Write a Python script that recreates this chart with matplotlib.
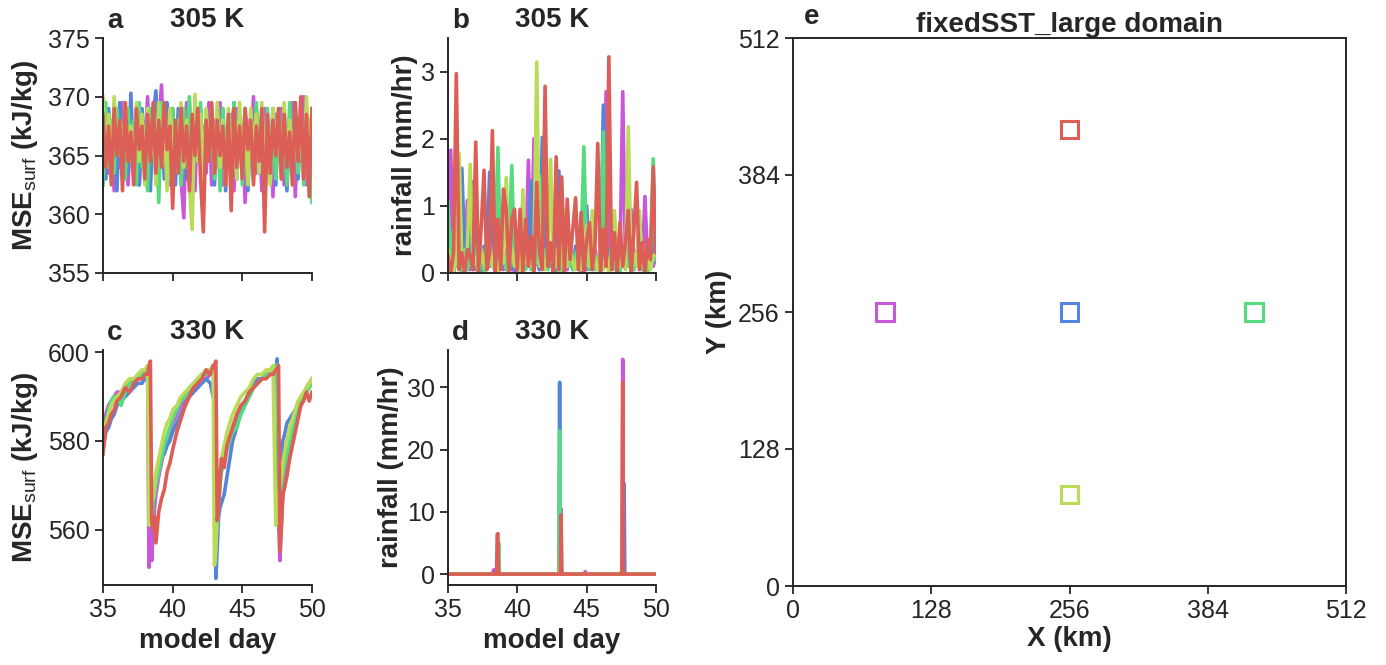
import numpy as np
import matplotlib
matplotlib.use("Agg")
import matplotlib.pyplot as plt
from matplotlib.patches import Rectangle

plt.rcParams["font.family"] = ["Liberation Sans", "DejaVu Sans"]
plt.rcParams["mathtext.fontset"] = "custom"
plt.rcParams["mathtext.rm"] = "Liberation Sans"
plt.rcParams["mathtext.it"] = "Liberation Sans:italic"
plt.rcParams["mathtext.bf"] = "Liberation Sans:bold"

INK = "#262626"

# sample columns, drawn in this order (red on top)
names = ["magenta", "blue", "green", "yellow", "red"]
colors = {"magenta": "#c957db", "blue": "#5784db", "green": "#57db80",
          "yellow": "#b9db57", "red": "#db5f57"}

# ---------------- 305 K (panels a, b): sampled every 0.2 day ----------------
days_ab = np.round(np.arange(35.0, 50.001, 0.2), 1)

mse305 = {
    "magenta": [366.0, 369.0, 363.5, 367.5, 362.0, 368.5, 364.0, 369.5, 365.0, 362.5,
                368.0, 364.5, 369.0, 362.5, 367.0, 365.0, 370.0, 363.0, 368.5, 364.0,
                367.5, 371.0, 364.0, 368.5, 362.5, 369.0, 364.5, 367.0, 363.0, 359.7,
                369.5, 364.0, 367.5, 362.0, 369.0, 365.0, 367.5, 363.5, 369.5, 362.5,
                368.0, 364.0, 369.5, 362.5, 367.0, 364.5, 368.5, 362.0, 369.0, 365.0,
                367.5, 361.0, 368.0, 364.5, 370.0, 363.5, 367.5, 362.0, 369.0, 364.0,
                367.0, 361.5, 368.5, 365.0, 369.0, 362.5, 367.5, 364.0, 369.5, 361.5,
                368.0, 364.5, 370.0, 362.5, 368.0, 365.0],
    "blue": [367.0, 363.0, 369.0, 364.5, 368.0, 362.0, 369.5, 365.0, 367.5, 363.5,
             370.3, 364.0, 368.0, 362.5, 369.0, 365.5, 367.0, 362.0, 368.5, 370.5,
             364.5, 368.0, 363.0, 369.5, 365.0, 367.5, 362.5, 369.0, 364.0, 368.0,
             363.0, 369.5, 361.5, 368.0, 364.5, 369.0, 363.0, 367.5, 365.0, 369.0,
             362.5, 368.5, 364.0, 369.0, 362.0, 367.5, 365.0, 369.5, 363.0, 368.0,
             364.5, 369.0, 362.0, 367.5, 365.0, 369.0, 363.5, 368.5, 360.5, 367.5,
             364.5, 369.0, 362.5, 368.0, 365.0, 369.0, 362.0, 368.5, 364.0, 369.5,
             363.0, 367.5, 365.0, 369.0, 362.5, 368.5],
    "green": [362.5, 369.5, 364.0, 368.0, 363.5, 369.0, 365.0, 367.5, 363.0, 369.0,
              364.5, 368.0, 362.5, 369.5, 364.0, 367.5, 362.0, 369.0, 365.0, 368.0,
              361.0, 369.5, 364.5, 367.5, 363.0, 369.0, 365.0, 368.0, 362.5, 369.0,
              364.5, 370.0, 363.5, 368.0, 365.0, 369.5, 362.5, 367.5, 364.5, 369.0,
              363.0, 368.5, 362.0, 369.0, 365.0, 367.5, 363.5, 369.5, 364.5, 368.0,
              362.5, 369.0, 364.0, 367.5, 363.0, 369.5, 365.0, 368.0, 362.5, 369.0,
              364.5, 367.5, 363.0, 369.0, 365.5, 368.0, 362.5, 369.5, 364.0, 368.0,
              363.5, 369.0, 362.5, 368.0, 365.0, 361.0],
    "yellow": [370.0, 364.0, 368.5, 363.0, 370.0, 365.5, 368.0, 363.5, 369.5, 365.0,
               367.5, 363.0, 369.5, 364.5, 368.5, 362.5, 369.0, 365.0, 367.0, 362.5,
               369.5, 364.0, 368.0, 362.0, 369.0, 365.5, 367.5, 363.5, 369.5, 364.0,
               368.0, 362.5, 358.7, 370.2, 364.5, 368.5, 363.0, 369.0, 365.0, 367.5,
               363.5, 369.5, 364.0, 368.0, 362.5, 369.0, 365.5, 367.5, 363.0, 369.5,
               364.5, 368.0, 362.5, 369.0, 365.0, 368.5, 363.5, 369.5, 364.0, 367.5,
               362.5, 369.0, 365.5, 368.0, 363.0, 369.5, 364.5, 368.0, 362.5, 369.0,
               365.0, 367.5, 363.0, 370.0, 364.5, 369.0],
    "red": [368.5, 364.0, 367.5, 362.5, 369.0, 365.0, 368.0, 362.0, 369.5, 364.5,
            367.0, 362.5, 369.0, 365.5, 367.5, 363.0, 368.5, 364.5, 369.5, 363.5,
            368.0, 364.0, 369.5, 365.5, 367.5, 360.5, 368.0, 363.5, 369.0, 364.5,
            367.5, 362.0, 368.5, 365.0, 369.0, 363.0, 358.5, 368.0, 364.5, 369.5,
            363.5, 368.0, 365.0, 367.5, 362.5, 368.5, 360.3, 369.0, 364.0, 367.5,
            363.0, 369.0, 365.5, 368.0, 362.5, 367.5, 364.5, 369.0, 358.5, 368.5,
            363.5, 368.0, 365.0, 369.0, 363.0, 368.5, 364.0, 367.0, 362.5, 369.5,
            364.5, 370.0, 363.0, 368.5, 361.5, 369.0],
}

rain305 = {
    "magenta": [0.25, 1.83, 0.0, 0.35, 0.1, 1.04, 0.15, 1.08, 0.05, 0.3,
                0.1, 0.45, 0.0, 0.2, 0.35, 0.1, 0.25, 0.0, 0.4, 0.15,
                0.05, 0.35, 0.05, 0.25, 0.0, 0.3, 0.1, 0.45, 0.15, 1.68,
                0.1, 2.0, 0.25, 0.05, 0.35, 0.15, 0.45, 0.1, 0.3, 0.0,
                0.35, 0.05, 0.25, 0.05, 0.4, 0.15, 0.1, 0.3, 0.0, 0.45,
                0.05, 0.25, 0.05, 0.35, 0.15, 0.1, 0.45, 2.7, 0.25, 0.05,
                0.35, 0.05, 0.15, 2.7, 0.1, 0.3, 0.95, 0.15, 0.1, 0.35,
                0.05, 1.14, 0.15, 0.45, 0.1, 0.25],
    "blue": [0.15, 0.35, 0.0, 0.25, 0.1, 1.56, 0.3, 0.05, 0.45, 1.36,
             0.05, 0.25, 0.0, 0.4, 0.15, 1.5, 0.1, 0.3, 0.0, 0.45,
             0.15, 0.05, 0.35, 0.05, 0.25, 0.0, 0.4, 0.15, 0.1, 0.35,
             1.37, 0.05, 0.25, 0.05, 2.02, 0.15, 0.35, 0.1, 0.3, 0.0,
             1.52, 0.15, 0.35, 0.1, 0.25, 0.05, 0.4, 0.15, 0.1, 0.3,
             1.0, 0.15, 0.35, 0.05, 0.25, 0.05, 2.5, 0.15, 0.35, 0.1,
             0.25, 0.0, 0.4, 0.15, 0.1, 0.35, 0.15, 0.05, 0.3, 0.45,
             0.1, 0.25, 0.05, 0.35, 0.15, 0.8],
    "green": [1.05, 0.15, 0.65, 0.1, 0.3, 0.0, 0.35, 0.05, 0.25, 0.05,
              0.4, 0.1, 0.3, 0.0, 0.45, 0.15, 0.1, 0.35, 1.87, 0.15,
              0.25, 0.05, 0.4, 1.6, 0.1, 0.3, 0.0, 0.35, 0.05, 0.25,
              0.05, 0.4, 0.15, 1.45, 0.1, 0.35, 0.05, 0.25, 0.45, 0.1,
              0.3, 0.0, 0.35, 1.0, 0.15, 0.05, 0.3, 0.1, 0.4, 1.88,
              0.15, 0.05, 0.35, 0.05, 0.25, 0.0, 2.1, 0.2, 0.1, 0.35,
              0.05, 0.3, 0.0, 0.4, 0.15, 0.1, 0.35, 0.05, 0.25, 0.45,
              0.05, 0.3, 0.0, 0.35, 1.7, 0.2],
    "yellow": [0.35, 0.1, 0.0, 0.3, 1.78, 0.15, 0.05, 0.4, 1.62, 0.1,
               0.25, 0.0, 0.35, 0.15, 0.05, 0.45, 0.1, 0.25, 0.0, 0.3,
               0.15, 1.42, 0.05, 0.35, 0.1, 0.25, 0.0, 1.24, 0.15, 0.35,
               0.1, 0.3, 3.14, 0.1, 0.35, 0.05, 0.25, 1.69, 0.05, 0.35,
               0.0, 0.3, 0.93, 0.1, 0.4, 0.15, 0.05, 0.35, 0.05, 0.3,
               0.7, 0.1, 0.93, 0.15, 0.05, 0.35, 0.05, 0.25, 0.0, 0.4,
               0.93, 0.15, 0.1, 0.35, 0.05, 2.18, 0.15, 0.3, 0.1, 0.93,
               0.15, 0.05, 0.35, 0.05, 0.25, 0.3],
    "red": [0.25, 0.0, 0.3, 2.97, 0.05, 0.3, 0.0, 0.35, 0.25, 0.05,
            1.95, 0.0, 0.7, 1.53, 0.05, 0.3, 2.12, 0.0, 0.8, 0.05,
            1.25, 0.95, 0.0, 0.8, 0.95, 0.05, 0.95, 0.0, 0.8, 0.1,
            0.55, 0.0, 1.35, 0.3, 0.05, 2.78, 0.1, 0.45, 0.0, 1.73,
            0.05, 1.43, 0.0, 1.1, 0.2, 0.65, 1.12, 0.05, 0.9, 0.0,
            0.5, 0.75, 0.05, 0.4, 1.93, 0.0, 0.65, 0.1, 3.22, 0.05,
            0.6, 0.0, 0.75, 0.1, 0.45, 0.93, 0.0, 0.6, 1.35, 0.05,
            0.45, 0.0, 0.5, 0.2, 1.58, 0.3],
}

# ---------------- 330 K (panel c): surface MSE ----------------
days_c = [35.0, 35.2, 35.4, 35.6, 35.8, 36.0, 36.3, 36.6, 36.9, 37.2,
          37.5, 37.8, 38.0, 38.2, 38.3, 38.4, 38.5, 38.6, 38.7, 38.8,
          39.0, 39.2, 39.4, 39.6, 39.8, 40.0, 40.3, 40.6, 40.9, 41.2,
          41.5, 41.8, 42.1, 42.4, 42.7, 42.9, 43.0, 43.1, 43.2, 43.3,
          43.4, 43.5, 43.7, 43.9, 44.1, 44.3, 44.6, 44.9, 45.2, 45.5,
          45.8, 46.1, 46.4, 46.7, 47.0, 47.2, 47.4, 47.5, 47.6, 47.7,
          47.8, 47.9, 48.0, 48.2, 48.4, 48.6, 48.8, 49.0, 49.2, 49.4,
          49.6, 49.8, 50.0]

mse330 = {
    "magenta": [580, 586, 588, 589, 590, 591, 591, 592, 593, 594,
                594, 595, 595, 596, 551.5, 562, 553, 560, 565, 568,
                572, 575, 578, 580, 582, 584, 586, 588, 589, 591,
                592, 593, 594, 594, 595, 596, 597, 560, 565, 570,
                573, 575, 577, 579, 581, 583, 585, 587, 589, 590,
                592, 593, 594, 595, 595, 596, 596, 597, 562, 553,
                561, 567, 571, 575, 579, 582, 584, 586, 588, 590,
                592, 593, 594],
    "blue": [578, 582, 583, 585, 586, 588, 589, 590, 591, 592,
             593, 593, 594, 594, 596, 562, 563, 566, 569, 572,
             575, 577, 577, 579, 580, 582, 584, 586, 588, 590,
             591, 592, 593, 594, 593, 590, 596, 549, 556, 563,
             565, 566, 568, 572, 576, 580, 583, 587, 589, 591,
             593, 594, 594, 595, 595, 596, 596, 598.5, 566, 570,
             576, 580, 581, 584, 585, 586, 587, 588, 589, 590,
             591, 593, 593],
    "green": [580, 584, 587, 589, 590, 590, 588, 591, 593, 594,
              594, 595, 596, 596, 597, 565, 561, 566, 568, 570,
              573, 576, 579, 581, 583, 585, 587, 589, 590, 592,
              593, 594, 595, 595, 596, 596, 597, 562, 560, 566,
              570, 573, 575, 578, 580, 582, 583, 586, 588, 590,
              592, 593, 594, 595, 595, 596, 597, 597, 563, 566,
              570, 572, 574, 577, 580, 583, 586, 588, 589, 590,
              591, 592, 593],
    "yellow": [579, 584, 586, 588, 589, 590, 591, 593, 594, 594,
               595, 596, 596, 597, 561, 566, 568, 567, 570, 573,
               576, 579, 582, 584, 585, 587, 588, 590, 591, 592,
               593, 594, 595, 596, 596, 597, 552, 555, 565, 569,
               573, 576, 579, 582, 584, 586, 588, 590, 591, 592,
               594, 595, 595, 596, 596, 597, 561, 565, 568, 570,
               572, 575, 577, 580, 583, 585, 587, 589, 590, 591,
               592, 593, 594],
    "red": [577, 583, 584, 586, 587, 589, 590, 592, 591, 593,
            594, 594, 595, 595, 597, 598, 562, 560, 563, 557,
            564, 567, 569, 573, 575, 578, 582, 585, 588, 590,
            592, 593, 594, 596, 595, 597, 597, 598, 562, 565,
            571, 576, 574, 579, 581, 583, 586, 588, 589, 591,
            592, 593, 594, 594, 595, 595, 596, 596, 597, 555,
            560, 568, 569, 572, 576, 579, 582, 585, 588, 589,
            591, 589, 591],
}

# ---------------- 330 K (panel d): rainfall ----------------
days_d = [35.0, 38.2, 38.3, 38.4, 38.5, 38.55, 38.6, 38.65, 38.7, 38.8,
          43.0, 43.05, 43.1, 43.15, 43.2, 43.25, 43.3, 44.8, 44.9, 45.0,
          47.4, 47.5, 47.55, 47.6, 47.65, 47.7, 47.75, 47.8, 50.0]

rain330 = {
    "magenta": [0, 0, 0.7, 0, 0, 0, 0, 0, 0, 0,
                0, 0, 0, 10.5, 0, 0, 0, 0, 0.4, 0,
                0, 0, 0, 34.5, 0, 0, 0, 0, 0],
    "blue": [0, 0, 0, 0, 0, 0, 0, 0, 0, 0,
             0, 30.8, 0, 0, 0, 0, 0, 0, 0, 0,
             0, 0, 0, 0, 0, 14.5, 0, 0, 0],
    "green": [0, 0, 0, 0, 0, 0, 0, 5.0, 0, 0,
              0, 23.0, 0, 0, 0, 0, 0, 0, 0, 0,
              0, 0, 0, 0, 0, 0, 0, 0, 0],
    "yellow": [0, 0, 0, 0, 0, 0, 0, 0, 0, 0,
               0, 0, 1.5, 0, 0, 0, 0, 0, 0, 0,
               0, 0.5, 0, 0, 0, 0, 0, 0, 0],
    "red": [0, 0, 0, 0, 0, 6.4, 6.5, 0, 0, 0,
            0, 0, 0, 9.5, 0, 0, 0, 0, 0, 0,
            0, 0, 0, 30.8, 0, 0, 0, 0, 0],
}

# ---------------- panel e: sample column centres (km) ----------------
col_x = {"magenta": 85.3, "blue": 256.0, "green": 426.7, "yellow": 256.0, "red": 256.0}
col_y = {"magenta": 256.0, "blue": 256.0, "green": 256.0, "yellow": 85.3, "red": 426.7}
BOX = 16.0
km_ticks = [0, 128, 256, 384, 512]

W, H = 1386, 665
fig = plt.figure(figsize=(W / 100, H / 100), dpi=100)


def add_ax(l, t, r, b):
    return fig.add_axes([l / W, 1 - b / H, (r - l) / W, (b - t) / H])


def style(ax, letter, title, open_frame=True, pad=8):
    for s in ax.spines.values():
        s.set_color(INK)
        s.set_linewidth(1.4)
    if open_frame:
        ax.spines["top"].set_visible(False)
        ax.spines["right"].set_visible(False)
    ax.tick_params(direction="out", length=6, width=1.3, colors=INK,
                   labelsize=18, labelcolor=INK)
    ax.text(0.02, 1.015, letter, transform=ax.transAxes, fontsize=20,
            fontweight="bold", color=INK, ha="left", va="bottom")
    ax.set_title(title, fontsize=20, fontweight="bold", color=INK, pad=pad)


LW = 2.6
mse_label = r"MSE$_{\mathrm{surf}}$ (kJ/kg)"

ax_a = add_ax(103, 38, 312, 273)
for n in names:
    ax_a.plot(days_ab, mse305[n], color=colors[n], lw=LW)
ax_a.set_xlim(35, 50)
ax_a.set_ylim(355, 375)
ax_a.set_yticks([355, 360, 365, 370, 375])
ax_a.set_xticks([35, 40, 45, 50])
ax_a.set_xticklabels([])
ax_a.set_ylabel(mse_label, fontsize=20, fontweight="bold", color=INK, labelpad=6)
style(ax_a, "a", "305 K")

ax_b = add_ax(448, 38, 656, 273)
for n in names:
    ax_b.plot(days_ab, rain305[n], color=colors[n], lw=LW)
ax_b.set_xlim(35, 50)
ax_b.set_ylim(0, 3.5)
ax_b.set_yticks([0, 1, 2, 3])
ax_b.set_xticks([35, 40, 45, 50])
ax_b.set_xticklabels([])
ax_b.set_ylabel("rainfall (mm/hr)", fontsize=20, fontweight="bold", color=INK, labelpad=2)
style(ax_b, "b", "305 K")

ax_c = add_ax(103, 350, 312, 585)
for n in names:
    ax_c.plot(days_c, mse330[n], color=colors[n], lw=LW)
ax_c.set_xlim(35, 50)
ax_c.set_ylim(547.5, 600.5)
ax_c.set_yticks([560, 580, 600])
ax_c.set_xticks([35, 40, 45, 50])
ax_c.set_xlabel("model day", fontsize=20, fontweight="bold", color=INK, labelpad=4)
ax_c.set_ylabel(mse_label, fontsize=20, fontweight="bold", color=INK, labelpad=6)
style(ax_c, "c", "330 K")

ax_d = add_ax(448, 350, 656, 585)
for n in names:
    ax_d.plot(days_d, rain330[n], color=colors[n], lw=LW)
ax_d.set_xlim(35, 50)
ax_d.set_ylim(-1.75, 36)
ax_d.set_yticks([0, 10, 20, 30])
ax_d.set_xticks([35, 40, 45, 50])
ax_d.set_xlabel("model day", fontsize=20, fontweight="bold", color=INK, labelpad=4)
ax_d.set_ylabel("rainfall (mm/hr)", fontsize=20, fontweight="bold", color=INK, labelpad=2)
style(ax_d, "d", "330 K")

ax_e = add_ax(793, 38, 1346, 586)
for n in names:
    ax_e.add_patch(Rectangle((col_x[n] - BOX / 2, col_y[n] - BOX / 2), BOX, BOX,
                             fill=False, edgecolor=colors[n], lw=2.2))
ax_e.set_xlim(0, 512)
ax_e.set_ylim(0, 512)
ax_e.set_xticks(km_ticks)
ax_e.set_yticks(km_ticks)
ax_e.set_xlabel("X (km)", fontsize=20, fontweight="bold", color=INK, labelpad=2)
ax_e.set_ylabel("Y (km)", fontsize=20, fontweight="bold", color=INK, labelpad=4)
style(ax_e, "e", "fixedSST_large domain", open_frame=False, pad=4)

fig.savefig("out.png", dpi=100)
